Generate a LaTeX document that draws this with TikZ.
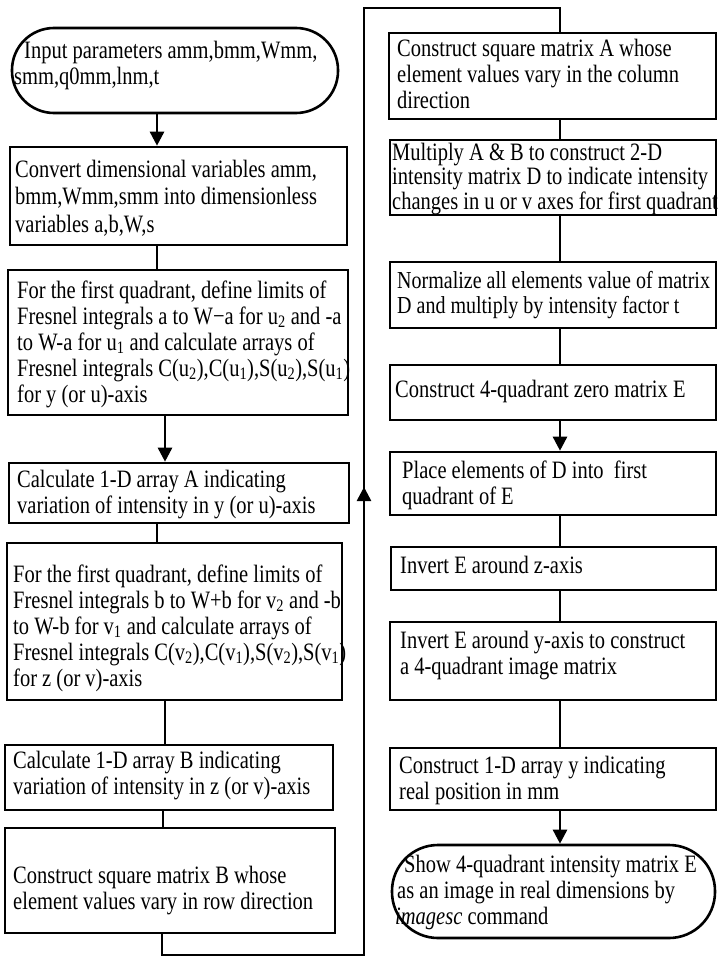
\documentclass[tikz,border=0pt]{standalone}
\usepackage{fontspec}
\setmainfont{Liberation Serif}[FakeStretch=0.82]
\usetikzlibrary{arrows.meta,fit}
\newcommand\flowfont{\fontsize{25}{26}\selectfont}
\newcommand\lines[1]{\parbox[t]{400pt}{\raggedright #1}}
\begin{document}
\begin{tikzpicture}[x=1pt,y=-1pt,
  box/.style={draw, line width=2.6pt, inner sep=0pt},
  term/.style={draw, line width=2.6pt, inner sep=0pt},
  txt/.style={anchor=base west, inner sep=0pt, font=\flowfont},
  link/.style={line width=2.6pt, line join=miter},
  arr/.style={line width=2.6pt, -{Triangle[length=14pt,width=14pt]}}]
\useasboundingbox[fill=white] (0,0) rectangle (717,963);

% left column
\node[term, rounded corners=42pt, fit={(12,28)(338,113)}] (L0) {};
\node[box, fit={(10,147)(347,245)}] (L1) {};
\node[box, fit={(8,270)(348,415)}] (L2) {};
\node[box, fit={(9,463)(349,523)}] (L3) {};
\node[box, fit={(7,543)(342,700)}] (L4) {};
\node[box, fit={(5,745)(333,810)}] (L5) {};
\node[box, fit={(5,828)(335,933)}] (L6) {};

% right column
\node[box, fit={(389,33)(716,119)}] (R1) {};
\node[box, fit={(390,140)(716,215)}] (R2) {};
\node[box, fit={(390,262)(716,328)}] (R3) {};
\node[box, fit={(390,365)(716,420)}] (R4) {};
\node[box, fit={(390,452)(716,515)}] (R5) {};
\node[box, fit={(391,547)(716,590)}] (R6) {};
\node[box, fit={(390,622)(716,700)}] (R7) {};
\node[box, fit={(390,748)(716,810)}] (R8) {};
\node[term, rounded corners=46pt, fit={(392,845)(715,938)}] (RT) {};

% texts
\node[txt] (tL0) at (24,59) {\lines{Input parameters amm,bmm,Wmm,\\\hspace*{-10pt}smm,q0mm,lnm,t}};
\node[txt] (tL1) at (15,177) {\fontsize{25}{27.5}\selectfont\lines{Convert dimensional variables amm,\\bmm,Wmm,smm into dimensionless\\variables a,b,W,s}};
\node[txt] (tL2) at (17,298) {\lines{For the first quadrant, define limits of\\Fresnel integrals a to W\textminus a for u\textsubscript{2} and -a\\to W-a for u\textsubscript{1} and calculate arrays of\\Fresnel integrals C(u\textsubscript{2}),C(u\textsubscript{1}),S(u\textsubscript{2}),S(u\textsubscript{1})\\for y (or u)-axis}};
\node[txt] (tL3) at (17,487) {\lines{Calculate 1-D array A indicating\\variation of intensity in y (or u)-axis}};
\node[txt] (tL4) at (13,582) {\lines{For the first quadrant, define limits of\\Fresnel integrals b to W+b for v\textsubscript{2} and -b\\to W-b for v\textsubscript{1} and calculate arrays of\\Fresnel integrals C(v\textsubscript{2}),C(v\textsubscript{1}),S(v\textsubscript{2}),S(v\textsubscript{1})\\for z (or v)-axis}};
\node[txt] (tL5) at (13,768) {\lines{Calculate 1-D array B indicating\\variation of intensity in z (or v)-axis}};
\node[txt] (tL6) at (13,883) {\lines{Construct square matrix B whose\\element values vary in row direction}};

\node[txt] (tR1) at (397,57) {\lines{Construct square matrix A whose\\element values vary in the column\\direction}};
\node[txt] (tR2) at (392,160) {\fontsize{25}{24.5}\selectfont\lines{Multiply A \& B to construct 2-D\\intensity matrix D to indicate intensity\\changes in u or v axes for first quadrant}};
\node[txt] (tR3) at (397,288) {\fontsize{24.4}{25}\selectfont\lines{Normalize all elements value of matrix\\D and multiply by intensity factor t}};
\node[txt] (tR4) at (395,397) {\lines{Construct 4-quadrant zero matrix E}};
\node[txt] (tR5) at (402,478) {\lines{Place elements of D into\ \ first\\quadrant of E}};
\node[txt] (tR6) at (400,573) {\lines{Invert E around z-axis}};
\node[txt] (tR7) at (400,648) {\lines{Invert E around y-axis to construct\\a 4-quadrant image matrix}};
\node[txt] (tR8) at (399,773) {\lines{Construct 1-D array y indicating\\real position in mm}};
\node[txt] (tRT) at (404,872) {\lines{Show 4-quadrant intensity matrix E\\\hspace*{-7pt}as an image in real dimensions by\\\hspace*{-9pt}\textit{imagesc} command}};

% connector x positions
\coordinate (ca) at (157,0);
\coordinate (cb) at (165,0);
\coordinate (cc) at (163,0);
\coordinate (cr) at (560,0);

\draw[arr]  (L0.south -| ca) -- (L1.north -| ca);
\draw[link] (L1.south -| ca) -- (L2.north -| ca);
\draw[arr]  (L2.south -| cb) -- (L3.north -| cb);
\draw[link] (L3.south -| ca) -- (L4.north -| ca);
\draw[link] (L4.south -| cb) -- (L5.north -| cb);
\draw[link] (L5.south -| cc) -- (L6.north -| cc);

\coordinate (k1) at (162,955);
\coordinate (k2) at (364,955);
\coordinate (k3) at (364,487);
\coordinate (k4) at (364,8);
\coordinate (k5) at (560,8);
\draw[link] (L6.south -| k1) -- (k1) -- (k2) -- (k4) -- (k5) -- (R1.north -| k5);
\draw[arr] (k2) -- (k3);

\draw[link] (R1.south -| cr) -- (R2.north -| cr);
\draw[link] (R2.south -| cr) -- (R3.north -| cr);
\draw[link] (R3.south -| cr) -- (R4.north -| cr);
\draw[arr]  (R4.south -| cr) -- (R5.north -| cr);
\draw[link] (R5.south -| cr) -- (R6.north -| cr);
\draw[link] (R6.south -| cr) -- (R7.north -| cr);
\draw[link] (R7.south -| cr) -- (R8.north -| cr);
\draw[arr]  (R8.south -| cr) -- (RT.north -| cr);
\end{tikzpicture}
\end{document}
